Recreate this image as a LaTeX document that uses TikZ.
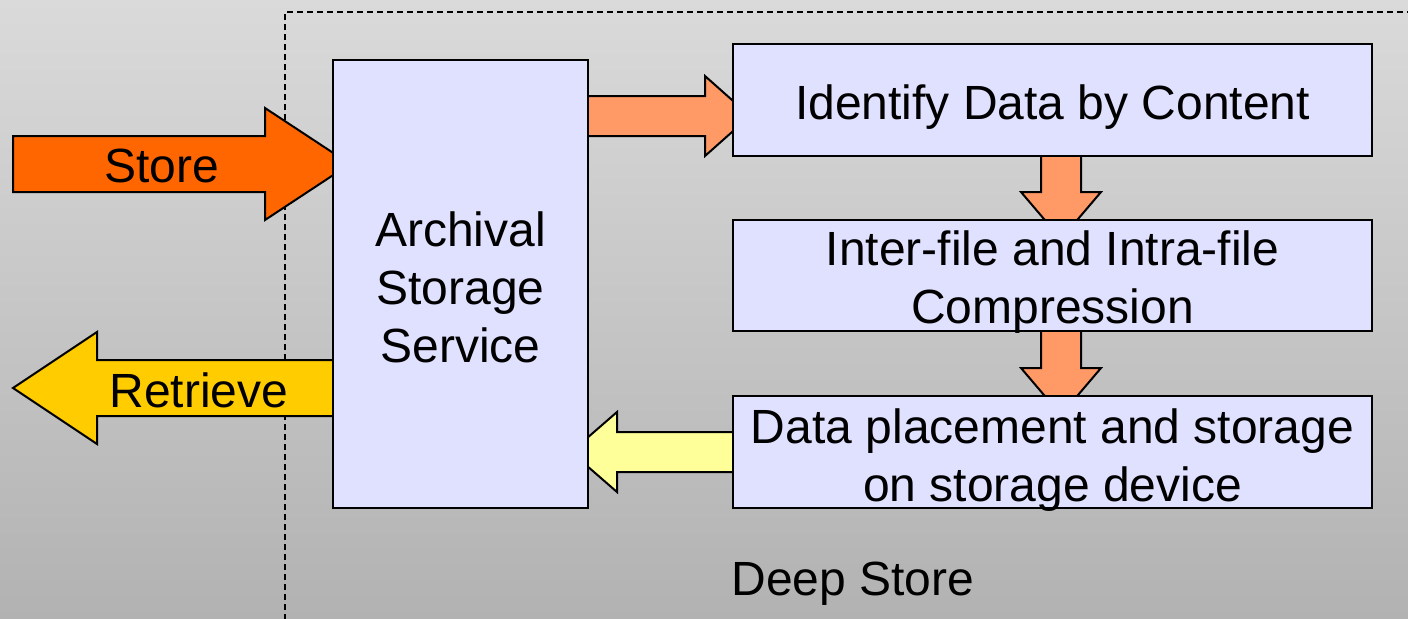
\documentclass[tikz,border=0pt]{standalone}
\usepackage{fontspec}
\setmainfont{Liberation Sans}
\definecolor{boxfill}{HTML}{E0E0FF}
\definecolor{storeor}{HTML}{FF6600}
\definecolor{salmon}{HTML}{FF9966}
\definecolor{retyel}{HTML}{FFCC00}
\definecolor{lightyel}{HTML}{FFFF99}
\definecolor{bgtop}{HTML}{DADADA}
\definecolor{bgbot}{HTML}{B2B2B2}
\tikzset{
  procbox/.style={draw=black, line width=1pt, fill=boxfill, inner sep=0pt},
  boxtext/.style={align=center, inner sep=0pt, font=\fontsize{24}{29}\selectfont},
  blockarrow/.style={draw=black, line width=1pt, line join=miter},
  lbl/.style={font=\fontsize{24}{29}\selectfont, inner sep=0pt}
}
\begin{document}
\begin{tikzpicture}[x=0.5pt, y=-0.5pt]
\useasboundingbox (0,0) rectangle (1408,618);
\shade[top color=bgtop, bottom color=bgbot] (0,0) rectangle (1408,618);
% deep store boundary
\draw[dash pattern=on 3pt off 2pt, line width=0.75pt] (285,620) -- (285,12) -- (1412,12);
% block arrows
\draw[blockarrow, fill=storeor] (13,136) -- (265,136) -- (265,108) -- (350,164) -- (265,220) -- (265,192) -- (13,192) -- cycle;
\draw[blockarrow, fill=retyel] (340,360) -- (97,360) -- (97,332) -- (13,388) -- (97,444) -- (97,416) -- (340,416) -- cycle;
\draw[blockarrow, fill=salmon] (580,96) -- (705,96) -- (705,76) -- (750,116) -- (705,156) -- (705,136) -- (580,136) -- cycle;
\draw[blockarrow, fill=lightyel] (740,432) -- (617,432) -- (617,412) -- (571,452) -- (617,492) -- (617,472) -- (740,472) -- cycle;
\draw[blockarrow, fill=salmon] (1041,150) -- (1041,192) -- (1021,192) -- (1061,239) -- (1101,192) -- (1081,192) -- (1081,150) -- cycle;
\draw[blockarrow, fill=salmon] (1041,326) -- (1041,368) -- (1021,368) -- (1061,415) -- (1101,368) -- (1081,368) -- (1081,326) -- cycle;
% boxes
\node[procbox, minimum width=127.5pt, minimum height=224pt] (arch) at (460.5,284) {};
\node[procbox, minimum width=319.5pt, minimum height=56pt] (ident) at (1052.5,100) {};
\node[procbox, minimum width=319.5pt, minimum height=55.5pt] (comp) at (1052.5,275.5) {};
\node[procbox, minimum width=319.5pt, minimum height=56pt] (place) at (1052.5,452) {};
\node[boxtext, yshift=-1.5pt] (archt) at (arch.center) {Archival\\Storage\\Service};
\node[boxtext, yshift=-3.5pt] (identt) at (ident.center) {Identify Data by Content};
\node[boxtext, yshift=-3.5pt] (compt) at (comp.center) {Inter-file and Intra-file\\Compression};
\node[boxtext, yshift=-4pt] (placet) at (place.center) {Data placement and storage\\on storage device};
% labels
\node[lbl] (store) at (162,166) {Store};
\node[lbl] (retr) at (199,390) {Retrieve};
\node[lbl] (deep) at (853,584) {Deep Store};
\end{tikzpicture}
\end{document}
